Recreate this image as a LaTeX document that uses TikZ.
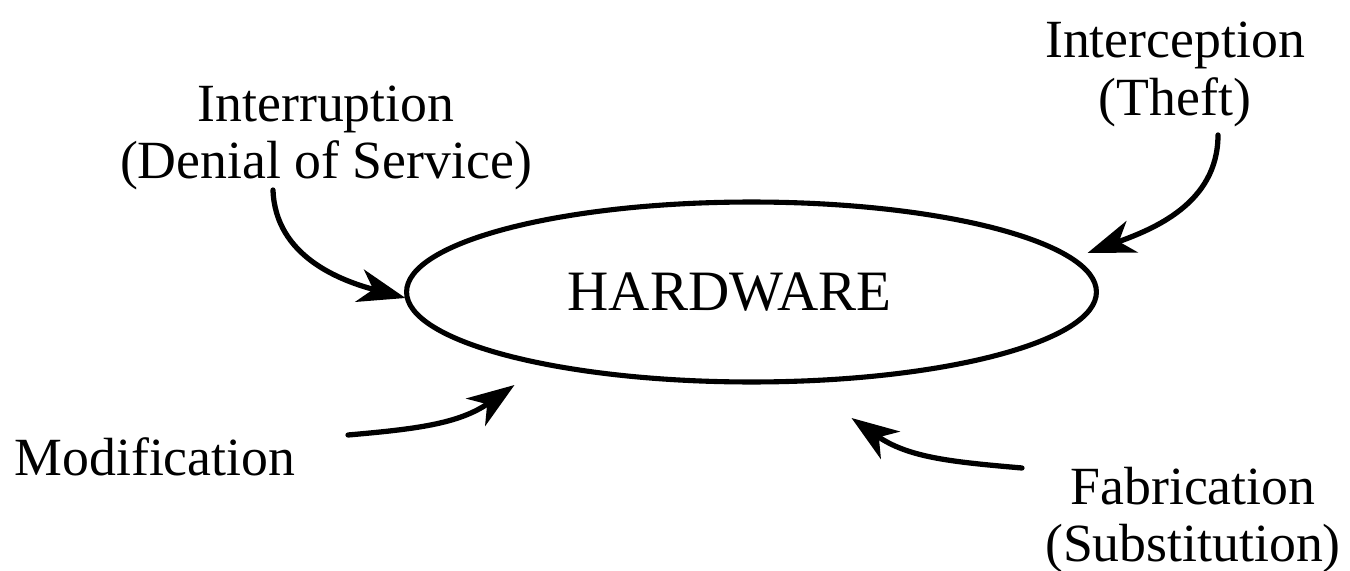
\documentclass[tikz,border=0pt]{standalone}
\usepackage{fontspec}
\setmainfont{Liberation Serif}
\usetikzlibrary{shapes.geometric,arrows.meta,calc}

\begin{document}
\begin{tikzpicture}[x=0.02cm, y=0.02cm,
    every node/.style={font=\fontsize{30.6}{32.9}\selectfont, inner sep=0pt},
    threat/.style={align=center},
    attack/.style={line width=3pt, line cap=round, -{Stealth[length=27pt,width=19pt,inset=8pt]}}]
    \useasboundingbox (0,0) rectangle (1350,-571);
    % the asset
    \node [draw, ellipse, line width=2.9pt, minimum width=13.8cm, minimum height=3.6cm,
           font=\fontsize{32.5}{35}\selectfont] (hw) at (751.5,-292) {HARDWARE\hspace*{0.88cm}};
    % the four threats
    \node [threat] (intr) at (326,-138) {Interruption\\(Denial of Service)};
    \node [threat] (intc) at (1175,-74.5) {Interception\\(Theft)};
    \node [anchor=base] (modi) at (155,-475) {Modification};
    \node [threat] (fabr) at (1193,-520) {Fabrication\\(Substitution)};
    \draw [attack] ($(intr)+(-53,-52)$) to [out=-88, in=165] ($(hw)+(-346,-6)$);
    \draw [attack] ($(intc)+(43,-60.5)$) to [out=-90, in=20] ($(hw)+(336,39)$);
    \draw [attack] ($(modi.base)+(193,40)$) to [out=5, in=-145] ($(hw)+(-237,-93)$);
    \draw [attack] ($(fabr)+(-171,52)$) to [out=175, in=-35] ($(hw)+(100,-126)$);
\end{tikzpicture}
\end{document}
